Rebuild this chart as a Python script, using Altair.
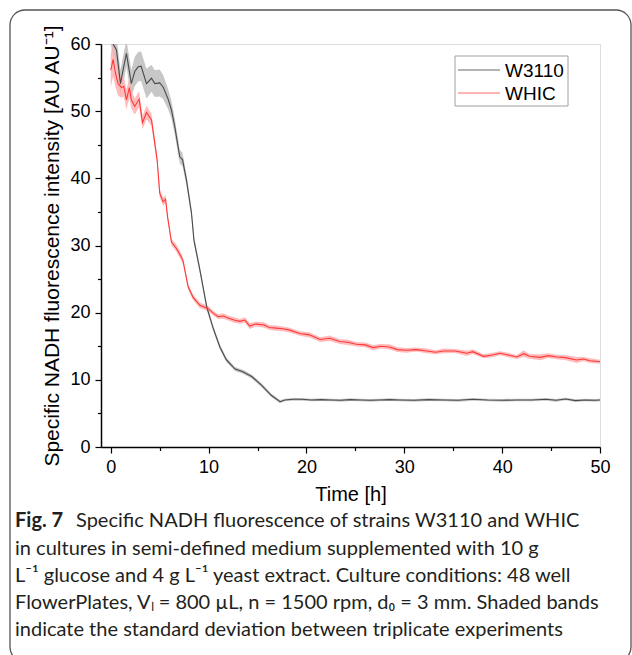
import altair as alt
import pandas as pd

# ---------------- data ----------------
strains = ["W3110", "WHIC"]

w3110_t = [0, 0.24, 0.58, 0.99, 1.3, 1.6, 2.1, 2.45, 2.8, 3.1, 3.65, 4.16, 4.5, 5.0, 5.35,
           5.86, 6.2, 6.54, 7.05, 7.33, 7.74, 8.25, 8.5, 9.1, 9.8, 10.46, 11.15, 11.8, 12.7,
           13.5, 14.4, 15.4, 16.4, 17.3, 17.8, 18.6, 19.5, 20.5, 21.5, 22.5, 23.5, 24.5, 25.5,
           26.5, 27.5, 28.5, 29.5, 31, 32.5, 34, 35.5, 37, 38.5, 40, 41.5, 43, 44.5, 45.5,
           46.5, 47.5, 48.5, 49.5, 50]
w3110_v = [61.5, 60.0, 59.1, 54.1, 56.5, 58.6, 54.1, 55.9, 56.6, 56.7, 54.1, 54.9, 54.1, 54.2,
           53.6, 51.8, 50.2, 47.7, 43.2, 42.8, 39.7, 34.8, 30.8, 26.4, 20.9, 17.7, 14.9, 13.0,
           11.6, 11.2, 10.5, 9.2, 7.7, 6.75, 7.0, 7.1, 7.1, 7.0, 7.05, 7.0, 6.95, 7.05, 7.0,
           6.95, 7.0, 7.05, 7.0, 6.95, 7.05, 7.0, 6.95, 7.1, 7.0, 6.95, 7.0, 7.0, 7.1, 6.95,
           7.15, 6.9, 7.0, 6.95, 7.0]
w3110_sd = [1.5, 1.8, 2.0, 2.0, 2.0, 2.0, 2.0, 2.2, 2.2, 2.2, 2.2, 2.0, 2.0, 2.0, 1.8, 1.5,
            1.3, 1.2, 1.0, 1.0, 0.8, 0.7, 0.6, 0.5, 0.5, 0.4, 0.4, 0.35, 0.3, 0.3, 0.3, 0.3,
            0.25, 0.25, 0.2, 0.2, 0.2, 0.2, 0.2, 0.2, 0.2, 0.2, 0.2, 0.2, 0.2, 0.2, 0.2, 0.2,
            0.2, 0.2, 0.2, 0.2, 0.2, 0.2, 0.2, 0.2, 0.2, 0.2, 0.2, 0.2, 0.2, 0.2, 0.2]

whic_t = [0, 0.24, 0.5, 0.75, 1.1, 1.33, 1.6, 1.9, 2.1, 2.45, 2.9, 3.24, 3.65, 4.16, 4.5, 4.74,
          5.0, 5.35, 5.6, 5.8, 6.2, 6.7, 7.2, 7.4, 7.9, 8.4, 9.1, 9.95, 10.5, 10.97, 11.5, 12.0,
          12.6, 13.2, 13.7, 14.2, 14.8, 15.6, 16.2, 16.9, 17.6, 18.3, 19.3, 20.3, 21.4, 22.4,
          23.4, 24.2, 25.1, 26.0, 26.8, 27.6, 28.5, 29.3, 30.2, 31.2, 32.3, 33.2, 34.0, 35.2,
          36.4, 37.0, 38.1, 39.0, 39.8, 40.6, 41.5, 42.2, 42.8, 43.9, 44.7, 45.6, 46.5, 47.6,
          48.3, 49.0, 50]
whic_v = [56.1, 57.7, 55.5, 54.1, 53.5, 53.7, 51.7, 53.5, 51.7, 50.7, 51.8, 48.3, 49.8, 48.7,
          45.2, 42.7, 37.8, 36.5, 36.9, 34.3, 30.5, 29.6, 28.3, 27.6, 23.9, 22.3, 21.1, 20.6,
          19.9, 19.4, 19.5, 19.2, 18.9, 18.7, 18.9, 18.0, 18.3, 18.2, 17.8, 17.7, 17.6, 17.4,
          16.9, 16.7, 16.0, 16.2, 15.7, 15.6, 15.3, 15.2, 14.8, 15.0, 14.9, 14.5, 14.4, 14.5,
          14.3, 14.1, 14.3, 14.3, 13.95, 14.2, 13.5, 13.7, 13.95, 13.7, 13.4, 13.9, 13.5, 13.35,
          13.6, 13.4, 13.3, 12.95, 13.1, 12.85, 12.7]
whic_sd = [2.5, 2.5, 2.0, 1.8, 1.5, 1.5, 1.5, 1.5, 1.3, 1.2, 1.2, 1.0, 1.0, 0.9, 0.8, 0.7, 0.6,
           0.6, 0.6, 0.5, 0.5, 0.5, 0.5, 0.5, 0.4, 0.4, 0.4, 0.4, 0.35, 0.35, 0.4, 0.35, 0.4,
           0.35, 0.4, 0.45, 0.35, 0.4, 0.35, 0.4, 0.35, 0.35, 0.35, 0.4, 0.35, 0.4, 0.35, 0.4,
           0.35, 0.35, 0.4, 0.35, 0.4, 0.35, 0.35, 0.3, 0.35, 0.3, 0.35, 0.3, 0.4, 0.35, 0.3,
           0.35, 0.3, 0.35, 0.3, 0.5, 0.35, 0.45, 0.35, 0.35, 0.4, 0.45, 0.35, 0.35, 0.3]

x_ticks = [0, 5, 10, 15, 20, 25, 30, 35, 40, 45, 50]
y_ticks = [0, 5, 10, 15, 20, 25, 30, 35, 40, 45, 50, 55, 60]

x_title = "Time [h]"
y_title = "Specific NADH fluorescence intensity [AU AU\u207b\u00b9]"

caption_bold = "Fig. 7"
caption_first = "Specific NADH fluorescence of strains W3110 and WHIC"
caption_lines = [
    "in cultures in semi-defined medium supplemented with 10 g",
    "L\u207b\u00b9 glucose and 4 g L\u207b\u00b9 yeast extract. Culture conditions: 48 well",
    "FlowerPlates, V\u2097 = 800 \u00b5L, n = 1500 rpm, d\u2080 = 3 mm. Shaded bands",
    "indicate the standard deviation between triplicate experiments",
]

assert len(w3110_t) == len(w3110_v) == len(w3110_sd)
assert len(whic_t) == len(whic_v) == len(whic_sd)

rows = []
for name, ts, vs, sds in [("W3110", w3110_t, w3110_v, w3110_sd),
                          ("WHIC", whic_t, whic_v, whic_sd)]:
    for t, v, s in zip(ts, vs, sds):
        rows.append({"strain": name, "t": t, "v": v, "lo": v - s, "hi": v + s})
df = pd.DataFrame(rows)

FONT = "Liberation Sans"
CAPFONT = "Lato"
line_colors = ["#4a4a4a", "#ff3838"]
band_colors = ["#bdbdbd", "#ffb0b0"]
legend_colors = ["#9a9a9a", "#ff9a9a"]

x_axis = alt.Axis(
    values=x_ticks, title=x_title, grid=False,
    labelExpr="datum.value % 10 === 0 ? datum.label : ''",
    tickSize={"condition": {"test": "datum.value % 10 === 0", "value": 6}, "value": 3.5},
    tickColor="black", tickWidth=1.2, domainColor="black", domainWidth=1.5,
    labelFont=FONT, labelFontSize=18, labelColor="black", labelPadding=5,
    labelOverlap=False, labelFlush=False,
    titleFont=FONT, titleFontSize=20, titleFontWeight="normal", titleColor="black",
    titlePadding=8,
)
y_axis = alt.Axis(
    values=y_ticks, title=y_title, grid=False,
    labelExpr="datum.value % 10 === 0 ? datum.label : ''",
    tickSize={"condition": {"test": "datum.value % 10 === 0", "value": 6}, "value": 3.5},
    tickColor="black", tickWidth=1.2, domainColor="black", domainWidth=1.5,
    labelFont=FONT, labelFontSize=18, labelColor="black", labelPadding=5,
    labelOverlap=False, labelFlush=False,
    titleFont=FONT, titleFontSize=21, titleFontWeight="normal", titleColor="black",
    titlePadding=7,
)

xs = alt.Scale(domain=[-1, 50], nice=False, zero=False)
ys = alt.Scale(domain=[0, 60], nice=False)

base = alt.Chart(df)

band = base.mark_area(clip=True, opacity=0.85).encode(
    x=alt.X("t:Q", scale=xs, axis=x_axis),
    y=alt.Y("lo:Q", scale=ys, axis=y_axis),
    y2="hi:Q",
    color=alt.Color("strain:N", scale=alt.Scale(domain=strains, range=band_colors), legend=None),
)

line = base.mark_line(clip=True, strokeWidth=1.1).encode(
    x=alt.X("t:Q", scale=xs, axis=x_axis),
    y=alt.Y("v:Q", scale=ys, axis=y_axis),
    color=alt.Color("strain:N", scale=alt.Scale(domain=strains, range=line_colors), legend=None),
)

one = pd.DataFrame({"k": [0]})

# legend (drawn by hand, top-right inside the plot)
leg_box = alt.Chart(one).mark_rect(fillOpacity=0, stroke="#a0a0a0", strokeWidth=1).encode(
    x=alt.value(354), x2=alt.value(467), y=alt.value(12), y2=alt.value(62))
leg_layers = [leg_box]
for i, name in enumerate(strains):
    yy = 26 + 23 * i
    leg_layers.append(
        alt.Chart(one).mark_rule(color=legend_colors[i], strokeWidth=1.3).encode(
            x=alt.value(357), x2=alt.value(399), y=alt.value(yy)))
    leg_layers.append(
        alt.Chart(one).mark_text(align="left", baseline="middle", font=FONT, fontSize=19,
                                 color="black").encode(
            x=alt.value(404), y=alt.value(yy + 1), text=alt.value(name)))

frame = alt.Chart(one).mark_rect(
    fillOpacity=0, stroke="#555555", strokeWidth=1.3, cornerRadius=15
).encode(x=alt.value(-91), x2=alt.value(530), y=alt.value(-34), y2=alt.value(618))

cap_bold = alt.Chart(one).mark_text(
    align="left", baseline="alphabetic", font=CAPFONT, fontSize=20, fontWeight="bold",
    color="#231f20"
).encode(x=alt.value(-86), y=alt.value(483), text=alt.value(caption_bold))

cap_first = alt.Chart(one).mark_text(
    align="left", baseline="alphabetic", font=CAPFONT, fontSize=20, color="#231f20"
).encode(x=alt.value(-25), y=alt.value(483), text=alt.value(caption_first))

cap_rest = alt.Chart(one).mark_text(
    align="left", baseline="alphabetic", font=CAPFONT, fontSize=20, color="#231f20",
    lineBreak="\n", lineHeight=27.3
).encode(x=alt.value(-86), y=alt.value(510.5), text=alt.value("\n".join(caption_lines)))

chart = alt.layer(band, line, *leg_layers, frame, cap_bold, cap_first, cap_rest).resolve_scale(
    color="independent"
).properties(
    width=499, height=403,
    autosize=alt.AutoSizeParams(type="none"),
    padding={"left": 101, "top": 44, "right": 32, "bottom": 208},
).configure_view(stroke="black", strokeWidth=1.5).configure(background="white")

chart.save("out.html", embed_options={"renderer": "svg", "actions": False})
